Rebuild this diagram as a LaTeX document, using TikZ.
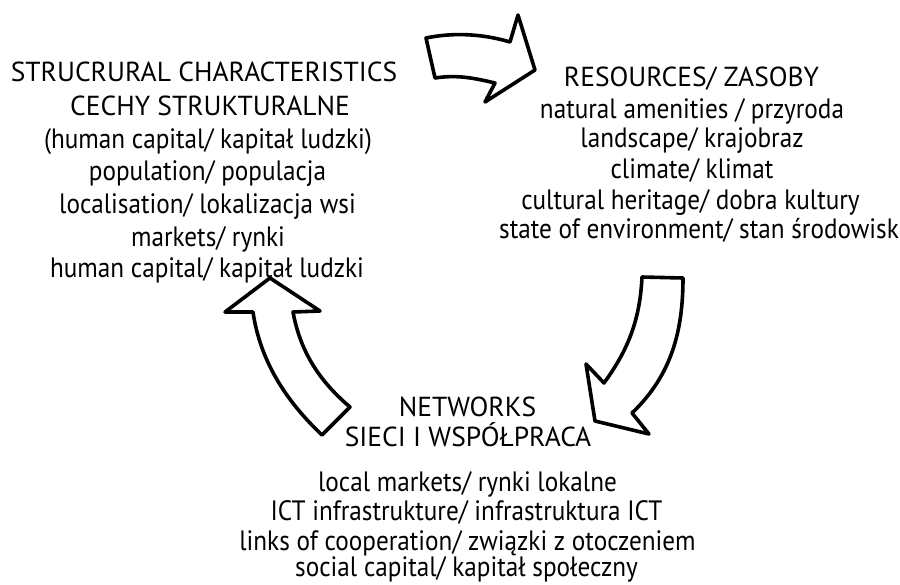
\documentclass[tikz,border=0pt]{standalone}
\usepackage{fontspec}
\setmainfont[FakeStretch=0.9]{PT Sans}
\newfontfamily\capsfont{PT Sans}
\begin{document}
\begin{tikzpicture}[x=1pt,y=-1pt,
  lbl/.style={anchor=base,inner sep=0pt,font=\fontsize{28}{31}\selectfont},
  capslbl/.style={lbl,font=\fontsize{27.5}{31}\capsfont},
  bigarrow/.style={draw=black,fill=white,line width=3.6pt,line join=round}]
\useasboundingbox (0,0) rectangle (900,584);
% left block
\node[capslbl] (l1) at (204,81.7) {STRUCRURAL CHARACTERISTICS};
\node[capslbl] (l2) at (210,115) {CECHY STRUKTURALNE};
\node[lbl] (l3) at (208,148) {(human capital/ kapitał ludzki)};
\node[lbl] (l4) at (207.5,180.5) {population/ populacja};
\node[lbl] (l5) at (207.5,213) {localisation/ lokalizacja wsi};
\node[lbl] (l6) at (208,246) {markets/ rynki};
\node[lbl] (l7) at (207,277) {human capital/ kapitał ludzki};
% right block
\node[capslbl] (r1) at (691.5,86.7) {RESOURCES/ ZASOBY};
\node[lbl] (r2) at (692,118) {natural amenities / przyroda};
\node[lbl] (r3) at (692,147) {landscape/ krajobraz};
\node[lbl] (r4) at (692,178) {climate/ klimat};
\node[lbl] (r5) at (690.5,209) {cultural heritage/ dobra kultury};
\node[lbl,anchor=base east] (r6) at (899,238) {state of environment/ stan środowisk};
% bottom block
\node[capslbl] (n1) at (467.5,416.7) {NETWORKS};
\node[capslbl] (n2) at (468,446.7) {SIECI I WSPÓŁPRACA};
\node[lbl] (n3) at (467.5,491.7) {local markets/ rynki lokalne};
\node[lbl] (n4) at (466.5,520) {ICT infrastrukture/ infrastruktura ICT};
\node[lbl] (n5) at (467.5,550) {links of cooperation/ związki z otoczeniem};
\node[lbl] (n6) at (466.5,576.7) {social capital/ kapitał społeczny};
% arrows
\draw[bigarrow] (426,38) .. controls (460,31) and (490,36) .. (510,42) -- (518,15) -- (535,70) -- (485,102) -- (495,83) .. controls (470,77) and (455,75) .. (435,78) -- cycle;
\draw[bigarrow] (642,277) -- (683,278) .. controls (683,330) and (672,375) .. (632,413) -- (649,434) -- (595,421) -- (586,364) -- (604,383) .. controls (628,350) and (640,320) .. (642,277) -- cycle;
\draw[bigarrow] (270,278) -- (320,311) -- (293,312) .. controls (300,350) and (318,380) .. (350,407) -- (322,435) .. controls (285,400) and (260,360) .. (253,312) -- (225,312) -- cycle;
\end{tikzpicture}
\end{document}
